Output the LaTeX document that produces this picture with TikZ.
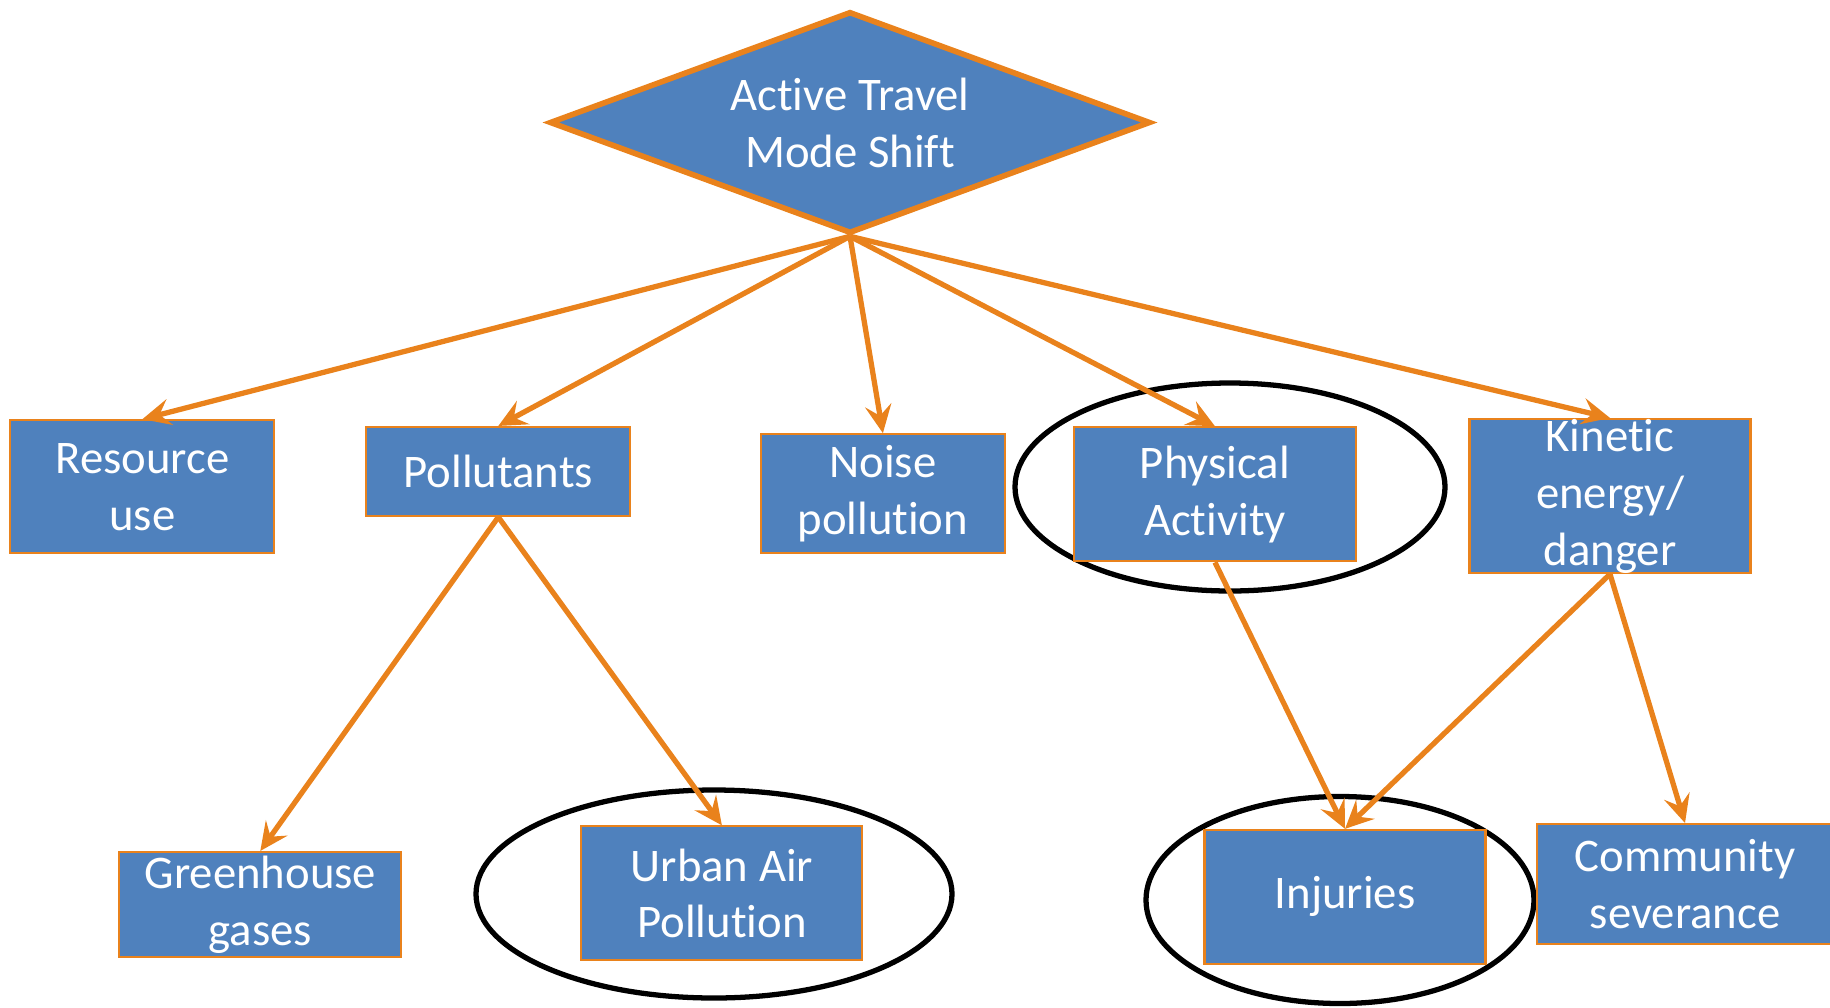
\documentclass[tikz,border=0pt]{standalone}
\usepackage{fontspec}
\setmainfont[Ligatures=NoCommon]{Carlito}
\usetikzlibrary{shapes.geometric,arrows.meta,positioning}
\definecolor{cBox}{RGB}{79,129,189}
\definecolor{cLine}{RGB}{233,130,28}
\tikzset{
  basebox/.style={rectangle,draw=cLine,fill=cBox,line width=0.6pt,
                  inner sep=0pt,align=center,text=white,
                  font=\fontsize{13.3}{16.2}\selectfont},
  topnode/.style={basebox,diamond,line width=1.6pt,aspect=2.7,
                  minimum width=6.01cm,minimum height=2.22cm},
  ringnode/.style={ellipse,draw=black,line width=1.5pt,inner sep=0pt},
  arr/.style={-{Stealth[length=8pt,width=7.5pt,inset=3pt]},
              line width=1.5pt,color=cLine}
}

\begin{document}
\begin{tikzpicture}
  \useasboundingbox (0,0) rectangle (18.3,-10.07);

  % circled outcomes, drawn behind the boxes
  \node[ringnode,minimum width=4.30cm,minimum height=2.08cm] (physring) at (12.30,-4.87) {};
  \node[ringnode,minimum width=4.76cm,minimum height=2.08cm] (urbanring) at (7.14,-8.94) {};
  \node[ringnode,minimum width=3.88cm,minimum height=2.07cm] (injring) at (13.40,-9.00) {};

  \node[topnode] (shift) at (8.50,-1.225) {Active Travel\\Mode Shift};

  \node[basebox,minimum width=2.64cm,minimum height=1.33cm] (res) at (1.424,-4.867) {Resource\\use};
  \node[basebox,minimum width=2.64cm,minimum height=0.89cm] (pol) at (4.983,-4.715) {Pollutants};
  \node[basebox,minimum width=2.44cm,minimum height=1.19cm] (noise) at (8.829,-4.937) {Noise\\pollution};
  \node[basebox,minimum width=2.82cm,minimum height=1.34cm] (phys) at (12.150,-4.943) {Physical\\Activity};
  \node[basebox,minimum width=2.81cm,minimum height=1.52cm] (kin) at (16.100,-4.960) {Kinetic\\energy/\\danger};

  \node[basebox,minimum width=2.82cm,minimum height=1.05cm] (ghg) at (2.603,-9.045) {Greenhouse\\gases};
  \node[basebox,minimum width=2.81cm,minimum height=1.34cm] (urban) at (7.219,-8.934) {Urban Air\\Pollution};
  \node[basebox,minimum width=2.81cm,minimum height=1.34cm] (inj) at (13.450,-8.969) {Injuries};
  \node[basebox,minimum width=2.96cm,minimum height=1.20cm] (comm) at (16.850,-8.841) {Community\\severance};

  \draw[arr] (shift.south) -- (res.north);
  \draw[arr] (shift.south) -- (pol.north);
  \draw[arr] (shift.south) -- (noise.north);
  \draw[arr] (shift.south) -- (phys.north);
  \draw[arr] (shift.south) -- (kin.north);

  \draw[arr] (pol.south) -- (ghg.north);
  \draw[arr] (pol.south) -- (urban.north);
  \draw[arr] (phys.south) -- (inj.north);
  \draw[arr] (kin.south) -- (inj.north);
  \draw[arr] (kin.south) -- (comm.north);
\end{tikzpicture}
\end{document}
